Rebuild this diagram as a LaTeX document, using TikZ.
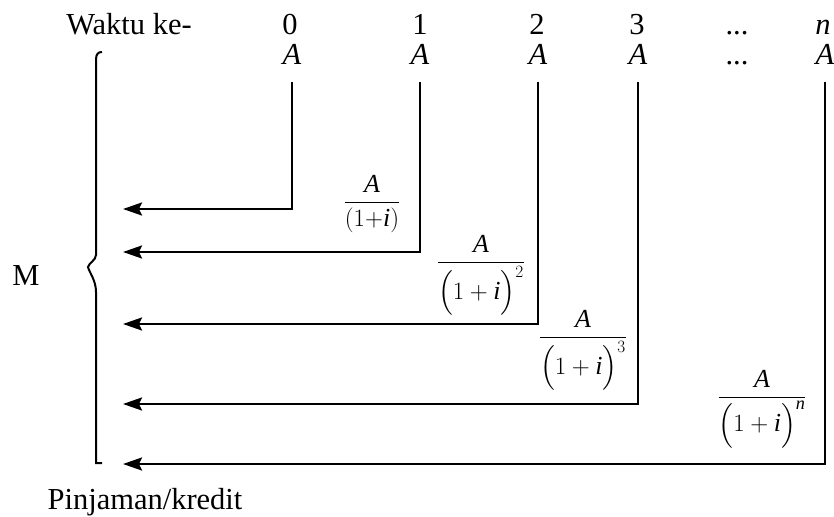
\documentclass[tikz,border=0pt]{standalone}
\usepackage{amsmath}
\usepackage{fontspec}
\setmainfont{Liberation Serif}
\usetikzlibrary{arrows.meta}
\begin{document}
\begin{tikzpicture}[x=1pt,y=-1pt,
  lbl/.style={font=\fontsize{30.5}{33}\selectfont, inner sep=0pt, anchor=base},
  frc/.style={font=\fontsize{26}{29}\selectfont, inner sep=0pt, anchor=base},
  conn/.style={line width=2.3pt, -{Stealth[length=19pt,width=13pt,inset=3pt]}},
  brc/.style={line width=2pt}]
\useasboundingbox (0,0) rectangle (834,516);
% header row
\node[lbl] (wk) at (129,35) {Waktu ke-};
\node[lbl] (n0) at (290,35) {0};
\node[lbl] (n1) at (420,35) {1};
\node[lbl] (n2) at (537,35) {2};
\node[lbl] (n3) at (637,35) {3};
\node[lbl] (nd) at (737,35) {...};
\node[lbl] (nn) at (823,35) {\textit{n}};
% payment row
\node[lbl] (a0) at (292,65) {\textit{A}};
\node[lbl] (a1) at (420,65) {\textit{A}};
\node[lbl] (a2) at (538,65) {\textit{A}};
\node[lbl] (a3) at (638,65) {\textit{A}};
\node[lbl] (ad) at (737,65) {...};
\node[lbl] (an) at (825,65) {\textit{A}};
% arrow targets
\coordinate (t0) at (123,209);
\coordinate (t1) at (123,252);
\coordinate (t2) at (123,324);
\coordinate (t3) at (123,404);
\coordinate (tn) at (123,464);
% connectors
\draw[conn] ([yshift=-17pt]a0.base) |- (t0);
\draw[conn] ([yshift=-17pt]a1.base) |- (t1);
\draw[conn] ([yshift=-17pt]a2.base) |- (t2);
\draw[conn] ([yshift=-17pt]a3.base) |- (t3);
\draw[conn] ([yshift=-17pt]an.base) |- (tn);
% fractions
\node[frc] (f1) at (372,209) {$\displaystyle\frac{\mathit{A}}{(1{+}\mathit{i})}$};
\node[frc] (f2) at (481,269) {$\displaystyle\frac{\mathit{A}}{\Big(1+\mathit{i}\Big)^{2}}$};
\node[frc] (f3) at (583,344) {$\displaystyle\frac{\mathit{A}}{\Big(1+\mathit{i}\Big)^{3}}$};
\node[frc] (fn) at (762,404) {$\displaystyle\frac{\mathit{A}}{\Big(1+\mathit{i}\Big)^{\mathit{n}}}$};
% brace
\draw[brc] (102,52) .. controls (98,52) and (96,54) .. (96,60) -- (96,255)
  .. controls (96,260) and (89,263) .. (88,267)
  .. controls (89,272) and (96,280) .. (96,292) -- (96,463) -- (102,463);
\node[lbl] (m) at (26,285) {M};
\node[lbl] (pk) at (145,509) {Pinjaman/kredit};
\end{tikzpicture}
\end{document}
